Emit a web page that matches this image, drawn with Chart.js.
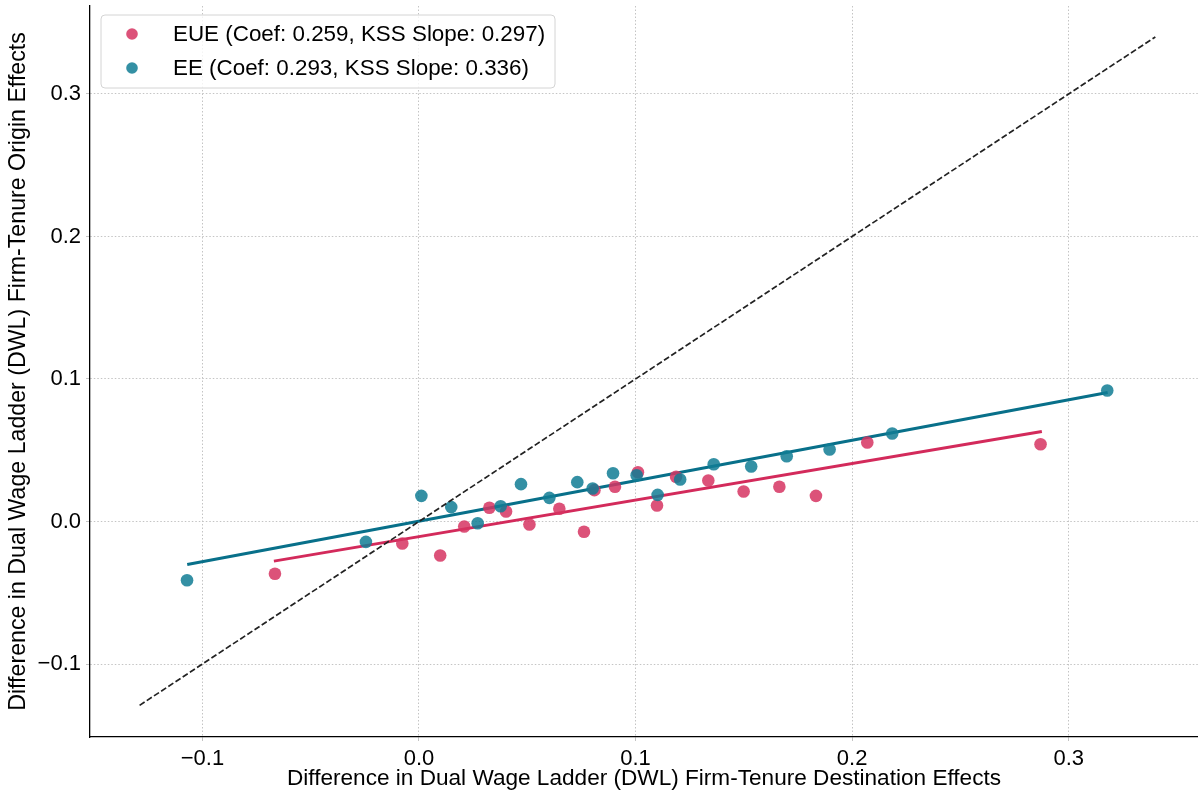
<!DOCTYPE html>
<html><head><meta charset="utf-8">
<script src="https://cdn.jsdelivr.net/npm/chart.js@4.4.1/dist/chart.umd.min.js"></script>
<style>html,body{margin:0;padding:0;background:#fff;}#wrap{width:1198px;height:794px;}</style>
</head><body><div id="wrap"><canvas id="c" width="1198" height="794"></canvas></div>
<script>
// ---- data ----
const eueX = [-0.0665, -0.0077, 0.0098, 0.0209, 0.0325, 0.0402, 0.0510, 0.0648, 0.0762, 0.0810, 0.0905, 0.1011, 0.1099, 0.1187, 0.1336, 0.1499, 0.1664, 0.1833, 0.2070, 0.2870];
const eueY = [-0.0367, -0.0154, -0.0239, -0.0035, 0.0096, 0.0070, -0.0021, 0.0089, -0.0072, 0.0220, 0.0244, 0.0346, 0.0112, 0.0314, 0.0288, 0.0211, 0.0244, 0.0180, 0.0554, 0.0542];
const eeX = [-0.1071, -0.0245, 0.0011, 0.0149, 0.0271, 0.0377, 0.0471, 0.0602, 0.0731, 0.0802, 0.0896, 0.1005, 0.1102, 0.1206, 0.1361, 0.1534, 0.1698, 0.1896, 0.2185, 0.3178];
const eeY = [-0.0412, -0.0143, 0.0180, 0.0101, -0.0012, 0.0107, 0.0262, 0.0166, 0.0276, 0.0232, 0.0339, 0.0325, 0.0187, 0.0295, 0.0402, 0.0386, 0.0458, 0.0505, 0.0618, 0.0919];
const eueFitX = [-0.0670, 0.2876];
const eueFitY = [-0.0278, 0.0632];
const eeFitX = [-0.1070, 0.3180];
const eeFitY = [-0.0302, 0.0905];
const diagX = [-0.129, 0.340];
const diagY = [-0.129, 0.340];
const xTicks = [-0.1, 0.0, 0.1, 0.2, 0.3];
const yTicks = [-0.1, 0.0, 0.1, 0.2, 0.3];
const seriesNames = ['EUE (Coef: 0.259, KSS Slope: 0.297)', 'EE (Coef: 0.293, KSS Slope: 0.336)'];
const xTitle = 'Difference in Dual Wage Ladder (DWL) Firm-Tenure Destination Effects';
const yTitle = 'Difference in Dual Wage Ladder (DWL) Firm-Tenure Origin Effects';

const pinkPt = 'rgba(214,52,98,0.85)';
const tealPt = 'rgba(16,124,148,0.85)';
const pinkLn = '#d32a5b';
const tealLn = '#08708a';
const FONT = "'Liberation Sans', Arial, sans-serif";

const zip = (xs, ys) => xs.map((x, i) => ({x, y: ys[i]}));
const fmt = v => { const s = Math.abs(v).toFixed(1); return v < -1e-9 ? '\u2212' + s : s; };

const legendPlugin = {
  id: 'boxLegend',
  afterDraw(chart) {
    const ctx = chart.ctx;
    ctx.save();
    const x0 = 101, y0 = 15, w = 454, h = 73, r = 4;
    ctx.beginPath();
    ctx.moveTo(x0 + r, y0);
    ctx.arcTo(x0 + w, y0, x0 + w, y0 + h, r);
    ctx.arcTo(x0 + w, y0 + h, x0, y0 + h, r);
    ctx.arcTo(x0, y0 + h, x0, y0, r);
    ctx.arcTo(x0, y0, x0 + w, y0, r);
    ctx.closePath();
    ctx.fillStyle = 'rgba(255,255,255,0.8)';
    ctx.fill();
    ctx.strokeStyle = '#d4d4d4';
    ctx.lineWidth = 1;
    ctx.stroke();
    const cols = [pinkPt, tealPt];
    const rows = [34, 68];
    ctx.font = '22.4px ' + FONT;
    ctx.textBaseline = 'middle';
    ctx.textAlign = 'left';
    for (let i = 0; i < 2; i++) {
      ctx.beginPath();
      ctx.arc(132, rows[i], 5.8, 0, Math.PI * 2);
      ctx.fillStyle = cols[i];
      ctx.fill();
      ctx.fillStyle = '#000';
      ctx.fillText(seriesNames[i], 173, rows[i] + 1);
    }
    ctx.restore();
  }
};

new Chart(document.getElementById('c'), {
  type: 'scatter',
  data: {
    datasets: [
      {label: seriesNames[1], data: zip(eeX, eeY), backgroundColor: tealPt, pointRadius: 6.3, pointBorderWidth: 0, borderWidth: 0, order: 1},
      {label: seriesNames[0], data: zip(eueX, eueY), backgroundColor: pinkPt, pointRadius: 6.3, pointBorderWidth: 0, borderWidth: 0, order: 2},
      {type: 'line', label: 'EE fit', data: zip(eeFitX, eeFitY), borderColor: tealLn, borderWidth: 3, pointRadius: 0, fill: false, order: 3},
      {type: 'line', label: 'EUE fit', data: zip(eueFitX, eueFitY), borderColor: pinkLn, borderWidth: 3, pointRadius: 0, fill: false, order: 4},
      {type: 'line', label: '45 degree', data: zip(diagX, diagY), borderColor: '#222', borderWidth: 1.7, borderDash: [6, 2.6], pointRadius: 0, fill: false, order: 0}
    ]
  },
  options: {
    responsive: false,
    devicePixelRatio: 1,
    animation: false,
    events: [],
    layout: {autoPadding: false, padding: {top: 6, right: 0, left: 0, bottom: 0}},
    plugins: {legend: {display: false}, tooltip: {enabled: false}},
    scales: {
      x: {
        type: 'linear', min: -0.1519, max: 0.3597,
        afterBuildTicks: s => { s.ticks = xTicks.map(v => ({value: v})); },
        afterFit: s => { s.height = 57; s.paddingLeft = 0; s.paddingRight = 0; },
        ticks: {callback: v => fmt(v), color: '#000', font: {size: 22, family: FONT}, padding: 5, maxRotation: 0, autoSkip: false},
        grid: {color: '#c4c4c4', lineWidth: 1, drawTicks: true, tickLength: 4},
        border: {display: true, color: '#000', width: 1.3, dash: [1.5, 2]},
        title: {display: true, text: xTitle, color: '#000', font: {size: 22.6, family: FONT}, padding: {top: 0, bottom: 2}}
      },
      y: {
        type: 'linear', min: -0.1512, max: 0.3617,
        afterBuildTicks: s => { s.ticks = yTicks.map(v => ({value: v})); },
        afterFit: s => { s.width = 90; s.paddingTop = 0; s.paddingBottom = 0; },
        ticks: {callback: v => fmt(v), color: '#000', font: {size: 22, family: FONT}, padding: 5},
        grid: {color: '#c4c4c4', lineWidth: 1, drawTicks: true, tickLength: 4},
        border: {display: true, color: '#000', width: 1.3, dash: [1.5, 2]},
        title: {display: true, text: yTitle, color: '#000', font: {size: 23.2, family: FONT}, padding: {top: 5, bottom: 0}}
      }
    }
  },
  plugins: [legendPlugin]
});
</script></body></html>
